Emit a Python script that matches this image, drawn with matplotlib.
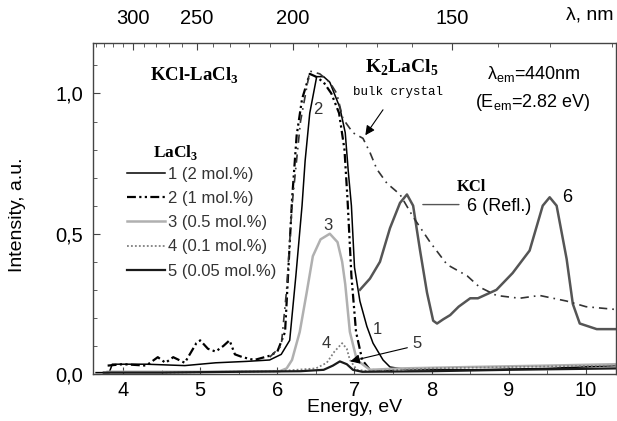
import numpy as np
import matplotlib
matplotlib.use("Agg")
import matplotlib.pyplot as plt
from matplotlib.ticker import FuncFormatter, MultipleLocator, FixedLocator

plt.rcParams['font.family'] = ['Liberation Sans', 'DejaVu Sans']
plt.rcParams['mathtext.fontset'] = 'custom'
plt.rcParams['mathtext.rm'] = 'Liberation Sans'
plt.rcParams['mathtext.bf'] = 'Liberation Serif:bold'

# ---------------- data ----------------
E1 = [3.65, 3.82, 3.86, 4.3, 4.8, 5.2, 5.6, 5.9, 6.05, 6.16, 6.24, 6.32, 6.36, 6.42, 6.51,
      6.6, 6.68, 6.81, 6.88, 6.92, 6.96, 7.0, 7.07, 7.16, 7.24, 7.37, 7.46, 7.7, 8.5, 9.5, 10.39]
I1 = [0.005, 0.005, 0.035, 0.035, 0.03, 0.04, 0.045, 0.05, 0.07, 0.12, 0.35, 0.6, 0.76, 0.93, 1.06,
      1.06, 1.04, 0.95, 0.86, 0.72, 0.6, 0.38, 0.26, 0.17, 0.11, 0.05, 0.025, 0.015, 0.015, 0.02, 0.03]

E2 = [3.8, 4.0, 4.3, 4.45, 4.55, 4.65, 4.8, 4.95, 5.0, 5.1, 5.2, 5.3, 5.38, 5.45, 5.55, 5.7,
      5.9, 6.0, 6.1, 6.19, 6.25, 6.32, 6.42, 6.5, 6.6, 6.7, 6.8, 6.87, 6.91, 6.96, 7.02, 7.1, 7.2, 7.5]
I2 = [0.03, 0.035, 0.03, 0.06, 0.04, 0.06, 0.04, 0.11, 0.12, 0.09, 0.08, 0.1, 0.12, 0.07, 0.06, 0.05,
      0.065, 0.08, 0.15, 0.62, 0.85, 0.98, 1.07, 1.06, 1.04, 1.0, 0.93, 0.8, 0.62, 0.35, 0.15, 0.05, 0.015, 0.01]

E3 = [3.8, 5.0, 5.9, 6.03, 6.12, 6.19, 6.29, 6.38, 6.46, 6.56, 6.68, 6.78, 6.84, 6.88, 6.94,
      7.03, 7.2, 7.6, 8.5, 9.5, 10.39]
I3 = [0.008, 0.008, 0.01, 0.01, 0.02, 0.05, 0.15, 0.29, 0.42, 0.48, 0.50, 0.47, 0.40, 0.32, 0.15,
      0.05, 0.015, 0.02, 0.025, 0.03, 0.035]

E4 = [4.5, 6.0, 6.5, 6.64, 6.74, 6.84, 6.9, 6.94, 7.03, 7.2, 8.0, 9.0, 10.39]
I4 = [0.005, 0.01, 0.02, 0.04, 0.08, 0.11, 0.09, 0.05, 0.015, 0.01, 0.02, 0.025, 0.03]

E5 = [3.75, 4.5, 5.5, 6.3, 6.6, 6.72, 6.81, 6.9, 6.98, 7.1, 8.0, 9.0, 10.39]
I5 = [0.005, 0.005, 0.008, 0.01, 0.015, 0.03, 0.045, 0.035, 0.015, 0.008, 0.01, 0.015, 0.02]

E6 = [7.07, 7.2, 7.33, 7.46, 7.59, 7.68, 7.76, 7.85, 7.94, 8.02, 8.07, 8.15, 8.24, 8.35, 8.5,
      8.6, 8.72, 8.84, 9.05, 9.27, 9.44, 9.53, 9.62, 9.75, 9.83, 9.92, 10.14, 10.39]
I6 = [0.30, 0.34, 0.40, 0.52, 0.61, 0.64, 0.60, 0.44, 0.29, 0.19, 0.18, 0.195, 0.21, 0.24, 0.27,
      0.27, 0.285, 0.30, 0.36, 0.44, 0.60, 0.63, 0.60, 0.41, 0.25, 0.18, 0.16, 0.16]

EB = [5.9, 6.05, 6.12, 6.19, 6.3, 6.42, 6.55, 6.68, 6.77, 6.85, 6.98, 7.11, 7.2, 7.29, 7.42,
      7.59, 7.76, 7.98, 8.2, 8.46, 8.62, 8.84, 9.14, 9.4, 9.75, 10.0, 10.39]
IB = [0.06, 0.1, 0.3, 0.6, 0.9, 1.08, 1.07, 1.04, 1.0, 0.91, 0.86, 0.84, 0.79, 0.73, 0.68,
      0.64, 0.56, 0.47, 0.39, 0.35, 0.31, 0.28, 0.27, 0.28, 0.26, 0.24, 0.23]

legend_labels = ['1 (2 mol.%)', '2 (1 mol.%)', '3 (0.5 mol.%)', '4 (0.1 mol.%)', '5 (0.05 mol.%)']
wl_major = [300, 250, 200, 150]
wl_minor = list(range(120, 350, 10))
HC = 1239.84

# ---------------- figure ----------------
fig = plt.figure(figsize=(6.17, 4.21), dpi=100)
ax = fig.add_axes([0.1507, 0.1116, 0.8477, 0.7863])

l1, = ax.plot(E1, I1, color='black', lw=1.1)
l2, = ax.plot(E2, I2, color='black', lw=1.6, linestyle=(0, (4, 1.5, 1, 1.5, 1, 1.5)))
l3, = ax.plot(E3, I3, color='#b0b0b0', lw=1.8)
l4, = ax.plot(E4, I4, color='#808080', lw=1.3, linestyle=(0, (1, 1.2)))
l5, = ax.plot(E5, I5, color='#1a1a1a', lw=1.6)
ax.plot(E6, I6, color='#555555', lw=1.8)
ax.plot(EB, IB, color='#333333', lw=1.2, linestyle=(0, (5, 3, 1, 3)))

ax.set_xlim(3.61, 10.39)
ax.set_ylim(0, 1.18)

for s in ax.spines.values():
    s.set_color('#444444')
    s.set_linewidth(1.0)

ax.xaxis.set_major_locator(MultipleLocator(1))
ax.xaxis.set_minor_locator(MultipleLocator(0.5))
ax.yaxis.set_major_locator(MultipleLocator(0.5))
ax.yaxis.set_minor_locator(MultipleLocator(0.1))
ax.yaxis.set_major_formatter(FuncFormatter(lambda v, p: f"{v:.1f}".replace('.', ',')))
ax.tick_params(which='both', direction='in', color='#444444', labelsize=14.5)
ax.tick_params(which='major', length=5)
ax.tick_params(which='minor', length=3)
ax.tick_params(axis='x', pad=5)
ax.tick_params(axis='y', pad=7)

ax2 = ax.twiny()
ax2.set_xlim(ax.get_xlim())
ax2.xaxis.set_major_locator(FixedLocator([HC / w for w in wl_major]))
ax2.xaxis.set_minor_locator(FixedLocator([HC / w for w in wl_minor]))
ax2.set_xticklabels([str(w) for w in wl_major])
ax2.tick_params(which='both', direction='in', color='#444444', labelsize=14.5, pad=11)
ax2.tick_params(which='major', length=5)
ax2.tick_params(which='minor', length=3)
for s in ax2.spines.values():
    s.set_visible(False)

fig.text(590 / 617, 1 - 15 / 421, 'λ, nm', fontsize=14, ha='center', va='center')
fig.text(355 / 617, 1 - 408 / 421, 'Energy, eV', fontsize=14, ha='center', va='center')
fig.text(18 / 617, 1 - 215 / 421, 'Intensity, a.u.', fontsize=14, ha='center', va='center', rotation=90)

serif_b = dict(family='Liberation Serif', weight='bold')
ax.text(4.35, 1.064, 'KCl-LaCl$_{\\mathbf{3}}$', fontsize=13.5, ha='left', va='center', **serif_b)
ax.text(7.13, 1.093, 'K$_{\\mathbf{2}}$LaCl$_{\\mathbf{5}}$', fontsize=14, ha='left', va='center', **serif_b)
ax.text(7.56, 1.005, 'bulk crystal', fontsize=9, ha='center', va='center', family='Liberation Mono')
ax.annotate('', xy=(7.12, 0.843), xytext=(7.39, 0.95),
            arrowprops=dict(arrowstyle='-|>', color='black', lw=0.8, mutation_scale=14))
ax.text(8.715, 1.068, 'λ$_{\\mathrm{em}}$=440nm', fontsize=13, ha='left', va='center')
ax.text(8.56, 0.968, '(E$_{\\mathrm{em}}$=2.82 eV)', fontsize=13, ha='left', va='center')
ax.text(8.33, 0.668, 'KCl', fontsize=12, ha='left', va='center', **serif_b)
ax.text(8.46, 0.596, '6 (Refl.)', fontsize=13, ha='left', va='center')
ax.annotate('', xy=(7.85, 0.604), xytext=(8.39, 0.604),
            arrowprops=dict(arrowstyle='-', color='#555555', lw=1.0))
ax.text(9.76, 0.63, '6', fontsize=13, ha='center', va='center')

ax.text(6.53, 0.943, '2', fontsize=12, ha='center', va='center', color='#333333')
ax.text(6.66, 0.53, '3', fontsize=12, ha='center', va='center', color='#333333')
ax.text(7.30, 0.157, '1', fontsize=12, ha='center', va='center', color='#333333')
ax.text(6.63, 0.107, '4', fontsize=12, ha='center', va='center', color='#333333')
ax.text(7.81, 0.11, '5', fontsize=12, ha='center', va='center', color='#333333')
ax.annotate('', xy=(6.91, 0.043), xytext=(7.72, 0.096),
            arrowprops=dict(arrowstyle='-|>', color='black', lw=0.8, mutation_scale=14))

ax.text(4.39, 0.79, 'LaCl$_{\\mathbf{3}}$', fontsize=12.5, ha='left', va='center', **serif_b)
ax.legend([l1, l2, l3, l4, l5], legend_labels, loc='upper left',
          bbox_to_anchor=((127 - 93) / 523, (374 - 167) / 331), frameon=False,
          fontsize=12, handlelength=2.3, handletextpad=0.18, labelspacing=0.55,
          borderpad=0, borderaxespad=0, labelcolor='#333333')

fig.savefig('out.png', dpi=100)
